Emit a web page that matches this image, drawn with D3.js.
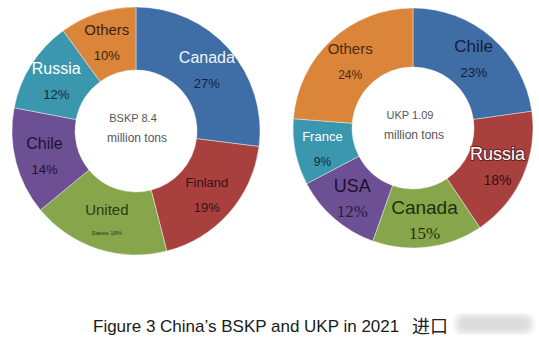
<!DOCTYPE html>
<html>
<head>
<meta charset="utf-8">
<script src="https://cdn.jsdelivr.net/npm/d3@7"></script>
<style>
  body { margin: 0; background: #fff; }
  svg { display: block; }
</style>
</head>
<body>
<svg id="chart" width="539" height="345"></svg>
<script>
// BSKP (left donut)
var bskpNames = ['Canada', 'Finland', 'United', 'Chile', 'Russia', 'Others'];
var bskpSub = ['27%', '19%', 'States 18%', '14%', '12%', '10%'];
var bskpValues = [27, 19, 18, 14, 12, 10];
var bskpCenter = ['BSKP 8.4', 'million tons'];

// UKP (right donut)
var ukpNames = ['Chile', 'Russia', 'Canada', 'USA', 'France', 'Others'];
var ukpSub = ['23%', '18%', '15%', '12%', '9%', '24%'];
var ukpValues = [23, 18, 15, 12, 9, 24];
var ukpCenter = ['UKP 1.09', 'million tons'];

var title = "Figure 3 China\u2019s BSKP and UKP in 2021";

var bskpColors = ['#3f6ea6', '#a8403e', '#87a64b', '#6c5093', '#3a97ae', '#db853a'];
var ukpColors = ['#3f6ea6', '#a8403e', '#87a64b', '#6c5093', '#3a97ae', '#db853a'];

// per label text styles [nameSize, nameColor, subSize, subColor, subFont]
var bskpStyle = [
  [16, '#f2f4fa', 13, '#18223d', 'Arial'],
  [13, '#3a1212', 13, '#3a1212', 'Arial'],
  [15, '#2b3b10', 6, '#2b3b10', 'Arial'],
  [16, '#1d1230', 13, '#1d1230', 'Arial'],
  [16, '#ffffff', 13, '#0f2d36', 'Arial'],
  [15, '#3d220c', 13, '#3d220c', 'Arial']
];
var ukpStyle = [
  [17, '#141c36', 13.5, '#141c36', 'Arial'],
  [18, '#ffffff', 14, '#3a1212', 'Arial'],
  [19, '#1d2d0b', 17, '#1d2d0b', 'Times New Roman'],
  [18, '#1b1030', 17, '#2a1a42', 'Times New Roman'],
  [13, '#ffffff', 12, '#0f2d36', 'Arial'],
  [15, '#4a2a10', 12, '#4a2a10', 'Arial']
];

var svg = d3.select('#chart');

function donut(cx, cy, outerR, innerR, names, subs, values, colors, styles, center, outlineIdx) {
  var g = svg.append('g').attr('transform', 'translate(' + cx + ',' + cy + ')');

  var pie = d3.pie().sort(null).value(function(d) { return d; });
  var arcs = pie(values);

  var arc = d3.arc().innerRadius(innerR).outerRadius(outerR);
  var labelArc = d3.arc().innerRadius(innerR + 2).outerRadius(outerR + 2);

  g.selectAll('path')
    .data(arcs)
    .enter()
    .append('path')
    .attr('d', arc)
    .attr('fill', function(d, i) { return colors[i]; })
    .attr('stroke', '#ffffff')
    .attr('stroke-width', 0.4);

  var labels = g.selectAll('.lab')
    .data(arcs)
    .enter()
    .append('g')
    .attr('class', 'lab')
    .attr('transform', function(d) {
      var c = labelArc.centroid(d);
      return 'translate(' + c[0] + ',' + c[1] + ')';
    });

  labels.append('text')
    .attr('text-anchor', 'middle')
    .attr('y', -6)
    .attr('font-family', 'Arial, Liberation Sans, sans-serif')
    .attr('font-size', function(d, i) { return styles[i][0]; })
    .attr('fill', function(d, i) { return styles[i][1]; })
    .attr('stroke', function(d, i) { return i === outlineIdx ? '#6a2420' : 'none'; })
    .attr('stroke-width', function(d, i) { return i === outlineIdx ? 2 : 0; })
    .style('paint-order', 'stroke')
    .text(function(d, i) { return names[i]; });

  labels.append('text')
    .attr('text-anchor', 'middle')
    .attr('y', function(d, i) { return styles[i][2] < 8 ? 14 : 19; })
    .attr('font-family', function(d, i) {
      return styles[i][4] === 'Arial' ? 'Arial, Liberation Sans, sans-serif' : 'Times New Roman, Liberation Serif, serif';
    })
    .attr('font-size', function(d, i) { return styles[i][2]; })
    .attr('fill', function(d, i) { return styles[i][3]; })
    .text(function(d, i) { return subs[i]; });

  g.append('text')
    .attr('text-anchor', 'middle')
    .attr('x', -3)
    .attr('y', -9)
    .attr('font-family', 'Arial, Liberation Sans, sans-serif')
    .attr('font-size', 11)
    .attr('fill', '#555')
    .text(center[0]);

  g.append('text')
    .attr('text-anchor', 'middle')
    .attr('x', 1)
    .attr('y', 11)
    .attr('font-family', 'Arial, Liberation Sans, sans-serif')
    .attr('font-size', 12)
    .attr('fill', '#555')
    .text(center[1]);
}

donut(136, 131, 124, 61, bskpNames, bskpSub, bskpValues, bskpColors, bskpStyle, bskpCenter, -1);
donut(413, 128, 120, 61, ukpNames, ukpSub, ukpValues, ukpColors, ukpStyle, ukpCenter, 1);

// caption
svg.append('text')
  .attr('x', 93)
  .attr('y', 332)
  .attr('font-family', 'Arial, Liberation Sans, sans-serif')
  .attr('font-size', 17)
  .attr('fill', '#1a1a1a')
  .text(title);

svg.append('text')
  .attr('x', 412)
  .attr('y', 333)
  .attr('font-family', 'Noto Sans CJK SC, sans-serif')
  .attr('font-size', 18)
  .attr('fill', '#222')
  .text('进口');

// blurred watermark block
var defs = svg.append('defs');
defs.append('filter').attr('id', 'blur')
  .append('feGaussianBlur').attr('stdDeviation', 3);

svg.append('rect')
  .attr('x', 456)
  .attr('y', 315)
  .attr('width', 76)
  .attr('height', 18)
  .attr('rx', 6)
  .attr('fill', '#dcdcdc')
  .attr('filter', 'url(#blur)');
</script>
</body>
</html>
